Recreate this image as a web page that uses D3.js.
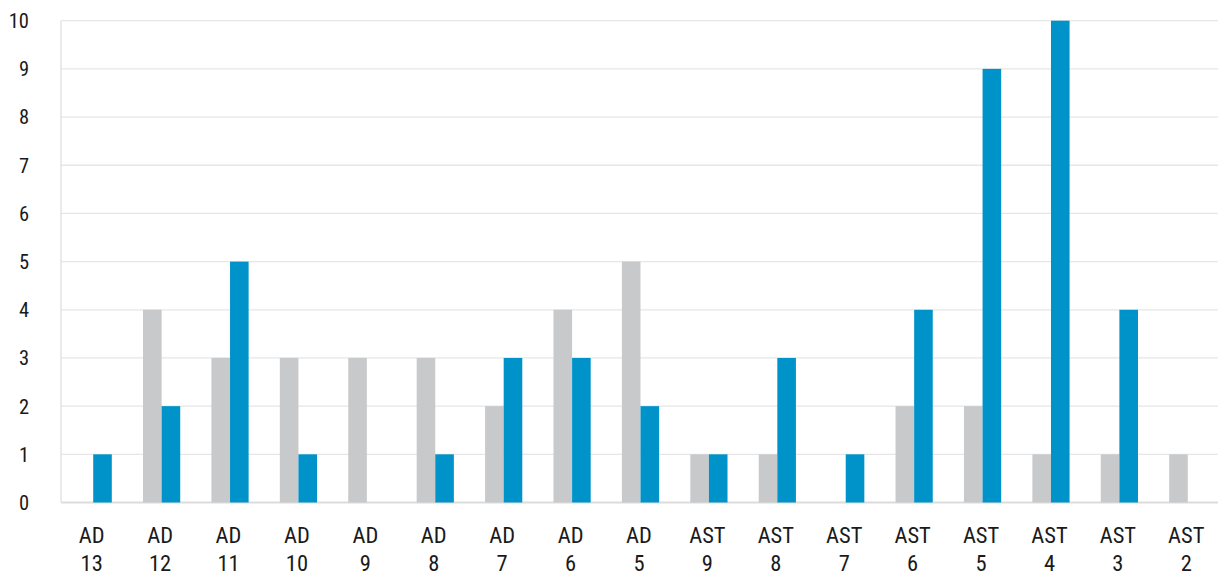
<!DOCTYPE html>
<html><head><meta charset="utf-8">
<script src="https://cdn.jsdelivr.net/npm/d3@7"></script>
<style>
html,body{margin:0;padding:0;background:#fff;}
text{font-family:"Liberation Sans Narrow","Roboto Condensed","Arial Narrow",Roboto,sans-serif;fill:#1a1a1a;}
</style></head>
<body>
<svg id="c" width="1223" height="576"></svg>
<script>
const categories = [["AD","13"],["AD","12"],["AD","11"],["AD","10"],["AD","9"],["AD","8"],["AD","7"],["AD","6"],["AD","5"],["AST","9"],["AST","8"],["AST","7"],["AST","6"],["AST","5"],["AST","4"],["AST","3"],["AST","2"]];
const seriesGray = [0,4,3,3,3,3,2,4,5,1,1,0,2,2,1,1,1];
const seriesBlue = [1,2,5,1,0,1,3,3,2,1,3,1,4,9,10,4,0];
const yTicks = [0,1,2,3,4,5,6,7,8,9,10];

const svg = d3.select("#c");
const keys = categories.map((c,i)=>i);
const x = d3.scaleBand().domain(keys).range([59,1222]).paddingInner(0).paddingOuter(0);
const y = d3.scaleLinear().domain([0,10]).range([502.5,20.7]);
const barW = 18.6;
const plotL = 61, plotR = 1218;

// gridlines
svg.append("g").selectAll("line").data(yTicks).join("line")
  .attr("x1",plotL).attr("x2",plotR)
  .attr("y1",d=>y(d)).attr("y2",d=>y(d))
  .attr("stroke",d=>d===0?"#dcdcdc":"#e6e6e6").attr("stroke-width",d=>d===0?2:1.3);
// left axis line
svg.append("line").attr("x1",plotL).attr("x2",plotL).attr("y1",y(10)).attr("y2",y(0))
  .attr("stroke","#e3e3e3").attr("stroke-width",1.5);

// y labels
svg.append("g").selectAll("text").data(yTicks).join("text")
  .attr("x",29).attr("y",d=>y(d)).attr("dy","0.36em")
  .attr("text-anchor","end").attr("font-size",20.5).text(d=>d);

// bars
const g = svg.append("g");
g.selectAll("rect.gray").data(seriesGray).join("rect").attr("class","gray")
  .attr("x",(d,i)=>x(i)+x.bandwidth()/2-barW)
  .attr("y",d=>y(d)).attr("width",barW).attr("height",d=>y(0)-y(d))
  .attr("fill","#c8c9cb");
g.selectAll("rect.blue").data(seriesBlue).join("rect").attr("class","blue")
  .attr("x",(d,i)=>x(i)+x.bandwidth()/2)
  .attr("y",d=>y(d)).attr("width",barW).attr("height",d=>y(0)-y(d))
  .attr("fill","#0093c9");

// x labels
const xl = svg.append("g").selectAll("text").data(categories).join("text")
  .attr("text-anchor","middle").attr("font-size",22.5);
xl.append("tspan").attr("x",(d,i)=>x(i)+x.bandwidth()/2-1.5).attr("y",543).text(d=>d[0]);
xl.append("tspan").attr("x",(d,i)=>x(i)+x.bandwidth()/2-1.5).attr("y",570.5).text(d=>d[1]);
</script>
</body></html>
